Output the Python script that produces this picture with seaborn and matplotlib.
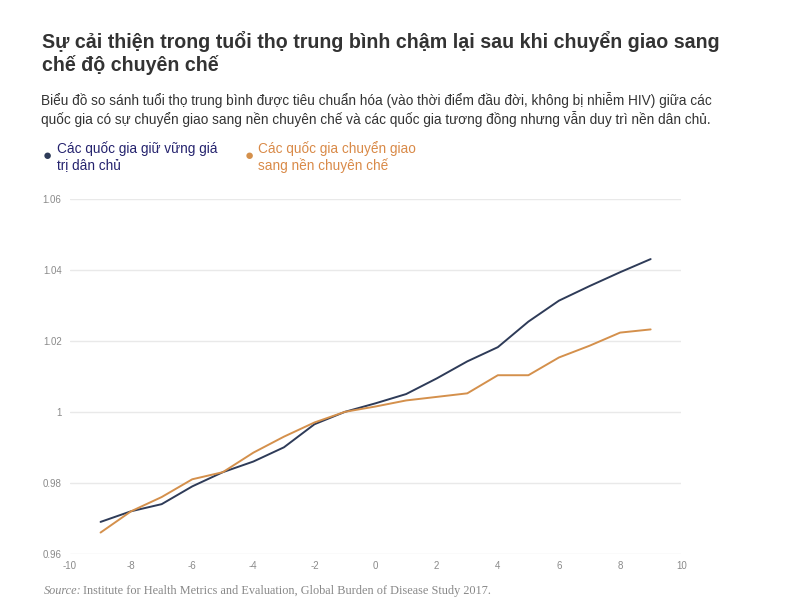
import numpy as np
import pandas as pd
import matplotlib
matplotlib.use("Agg")
import matplotlib.pyplot as plt
import seaborn as sns

# years relative to the transition
years = [-9, -8, -7, -6, -5, -4, -3, -2, -1, 0, 1, 2, 3, 4, 5, 6, 7, 8, 9]
# democracies that stayed democratic
democracy = [0.969, 0.972, 0.974, 0.979, 0.983, 0.986, 0.990, 0.9965, 1.000, 1.0024,
             1.005, 1.0094, 1.0142, 1.0182, 1.0254, 1.0313, 1.0354, 1.0393, 1.043]
# countries that moved to autocracy
autocracy = [0.966, 0.972, 0.976, 0.981, 0.983, 0.9885, 0.993, 0.997, 1.000, 1.0015,
             1.0032, 1.0042, 1.0052, 1.0103, 1.0103, 1.0153, 1.0186, 1.0223, 1.0232]

series_names = ["Các quốc gia giữ vững giá trị dân chủ",
                "Các quốc gia chuyển giao sang nền chuyên chế"]
colors = ["#2e3b58", "#d4904c"]
y_ticks = [0.96, 0.98, 1.00, 1.02, 1.04, 1.06]
y_labels = ["0.96", "0.98", "1", "1.02", "1.04", "1.06"]
x_ticks = [-10, -8, -6, -4, -2, 0, 2, 4, 6, 8, 10]

df = pd.DataFrame({
    "year": years * 2,
    "value": democracy + autocracy,
    "group": [series_names[0]] * len(years) + [series_names[1]] * len(years),
})

sns.set_style("white")
plt.rcParams["font.family"] = ["Liberation Sans", "DejaVu Sans"]
plt.rcParams["axes.unicode_minus"] = False

fig = plt.figure(figsize=(8, 6.04), dpi=100)
ax = fig.add_axes([0.0875, 0.083, 0.764, 0.588])

sns.lineplot(data=df, x="year", y="value", hue="group", palette=colors,
             hue_order=series_names, linewidth=1.4, legend=False, ax=ax)

ax.set_xlim(-10, 10)
ax.set_ylim(0.96, 1.06)
ax.set_yticks(y_ticks)
ax.set_yticklabels(y_labels)
ax.set_xticks(x_ticks)
ax.yaxis.grid(True, color="#e9e9e9", linewidth=1)
ax.xaxis.grid(False)
for s in ax.spines.values():
    s.set_visible(False)
ax.tick_params(axis="both", length=0, labelsize=7, labelcolor="#8a8a8a")
ax.tick_params(axis="y", pad=6)
ax.tick_params(axis="x", pad=5)
ax.set_xlabel("")
ax.set_ylabel("")

# title and subtitle
fig.text(0.053, 0.948, "Sự cải thiện trong tuổi thọ trung bình chậm lại sau khi chuyển giao sang\nchế độ chuyên chế",
         fontsize=14.1, fontweight="bold", color="#333333", va="top", ha="left", linespacing=1.15)
fig.text(0.051, 0.848, "Biểu đồ so sánh tuổi thọ trung bình được tiêu chuẩn hóa (vào thời điểm đầu đời, không bị nhiễm HIV) giữa các\n"
         "quốc gia có sự chuyển giao sang nền chuyên chế và các quốc gia tương đồng nhưng vẫn duy trì nền dân chủ.",
         fontsize=9.8, color="#333333", va="top", ha="left", linespacing=1.25)

# custom legend
fig.text(0.059, 0.741, "●", fontsize=11, color=colors[0], va="center", ha="center")
fig.text(0.071, 0.766, "Các quốc gia giữ vững giá\ntrị dân chủ", fontsize=9.8,
         color="#25236e", va="top", ha="left", linespacing=1.15)
fig.text(0.311, 0.741, "●", fontsize=11, color=colors[1], va="center", ha="center")
fig.text(0.322, 0.766, "Các quốc gia chuyển giao\nsang nền chuyên chế", fontsize=9.8,
         color="#d98a48", va="top", ha="left", linespacing=1.15)

# source
fig.text(0.055, 0.016, "Source:", fontsize=8.8, style="italic", family="Liberation Serif",
         color="#888888", va="baseline", ha="left")
fig.text(0.104, 0.016, "Institute for Health Metrics and Evaluation, Global Burden of Disease Study 2017.",
         fontsize=8.8, family="Liberation Serif", color="#888888", va="baseline", ha="left")

fig.savefig("out.png", dpi=100, facecolor="white")
